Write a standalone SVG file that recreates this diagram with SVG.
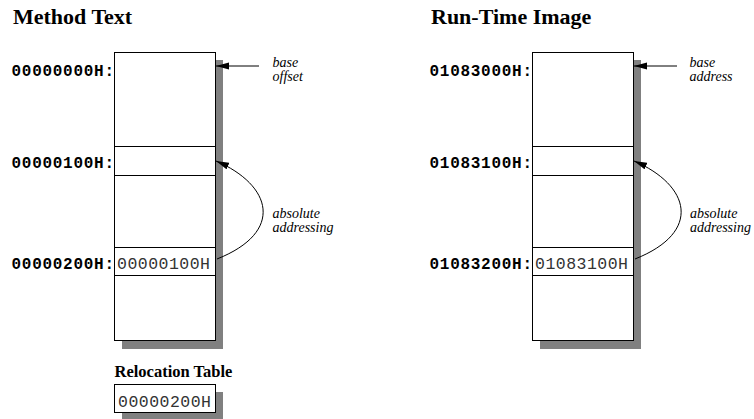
<svg xmlns="http://www.w3.org/2000/svg" width="754" height="419" viewBox="0 0 754 419">
<defs>
<style>
.title{font-family:"Liberation Serif",serif;font-weight:bold;font-size:22px;fill:#000}
.sub{font-family:"Liberation Serif",serif;font-weight:bold;font-size:16.5px;fill:#000}
.addr{font-family:"Liberation Mono",monospace;font-weight:bold;font-size:16px;fill:#000}
.val{font-family:"Liberation Mono",monospace;font-size:16.5px;fill:#333}
.note{font-family:"Liberation Serif","Times New Roman",serif;font-style:italic;font-size:14px;fill:#000}
.shadow{fill:#808080;stroke:none}
.box{fill:#fff;stroke:#000;stroke-width:1}
.line{fill:none;stroke:#000;stroke-width:1}
</style>
<marker id="ah" markerUnits="userSpaceOnUse" markerWidth="14" markerHeight="8" refX="13" refY="3.5" orient="auto">
<path d="M0,0 L13,3.5 L0,7 z" fill="#000"/>
</marker>
</defs>
<rect width="754" height="419" fill="#fff"/>

<g id="method-text">
<text class="title" x="13" y="23.5">Method Text</text>
<g id="method-memory">
<rect class="shadow" x="122" y="60" width="101" height="289"/>
<rect class="box" x="114.5" y="52.5" width="101" height="288"/>
<rect class="box" x="114.5" y="146.5" width="101" height="29"/>
<rect class="box" x="114.5" y="247.5" width="101" height="28"/>
<text class="val" x="117" y="269.3" textLength="93" lengthAdjust="spacing">00000100H</text>
</g>
<text class="addr" x="11.5" y="75.5" textLength="102.5" lengthAdjust="spacing">00000000H:</text>
<text class="addr" x="11.5" y="167.5" textLength="102.5" lengthAdjust="spacing">00000100H:</text>
<text class="addr" x="11.5" y="268.7" textLength="102.5" lengthAdjust="spacing">00000200H:</text>
<text class="note" x="272.5" y="67">base</text>
<text class="note" x="272.5" y="81">offset</text>
<text class="note" x="272.5" y="218">absolute</text>
<text class="note" x="272.5" y="232">addressing</text>
</g>

<g id="relocation-table">
<text class="sub" x="114.5" y="376.7">Relocation Table</text>
<rect class="shadow" x="122" y="392" width="101" height="27"/>
<rect class="box" x="114.5" y="384.5" width="101" height="28"/>
<text class="val" x="118" y="406.5" textLength="93" lengthAdjust="spacing">00000200H</text>
</g>

<g id="run-time-image">
<text class="title" x="431" y="23.5">Run-Time Image</text>
<g id="runtime-memory">
<rect class="shadow" x="540" y="60" width="101" height="289"/>
<rect class="box" x="532.5" y="52.5" width="101" height="288"/>
<rect class="box" x="532.5" y="146.5" width="101" height="29"/>
<rect class="box" x="532.5" y="247.5" width="101" height="28"/>
<text class="val" x="535" y="269.3" textLength="93" lengthAdjust="spacing">01083100H</text>
</g>
<text class="addr" x="429.5" y="75.5" textLength="102.5" lengthAdjust="spacing">01083000H:</text>
<text class="addr" x="429.5" y="167.5" textLength="102.5" lengthAdjust="spacing">01083100H:</text>
<text class="addr" x="429.5" y="268.7" textLength="102.5" lengthAdjust="spacing">01083200H:</text>
<text class="note" x="689.5" y="67">base</text>
<text class="note" x="689.5" y="81">address</text>
<text class="note" x="690" y="218">absolute</text>
<text class="note" x="690" y="232">addressing</text>
</g>

<g id="connectors">
<line class="line" x1="259" y1="66" x2="216" y2="66" marker-end="url(#ah)"/>
<path class="line" d="M217,259 C285,232 272,185 216,161" marker-end="url(#ah)"/>
<line class="line" x1="677" y1="66" x2="634" y2="66" marker-end="url(#ah)"/>
<path class="line" d="M635,259 C703,232 690,185 634,161" marker-end="url(#ah)"/>
</g>
</svg>
